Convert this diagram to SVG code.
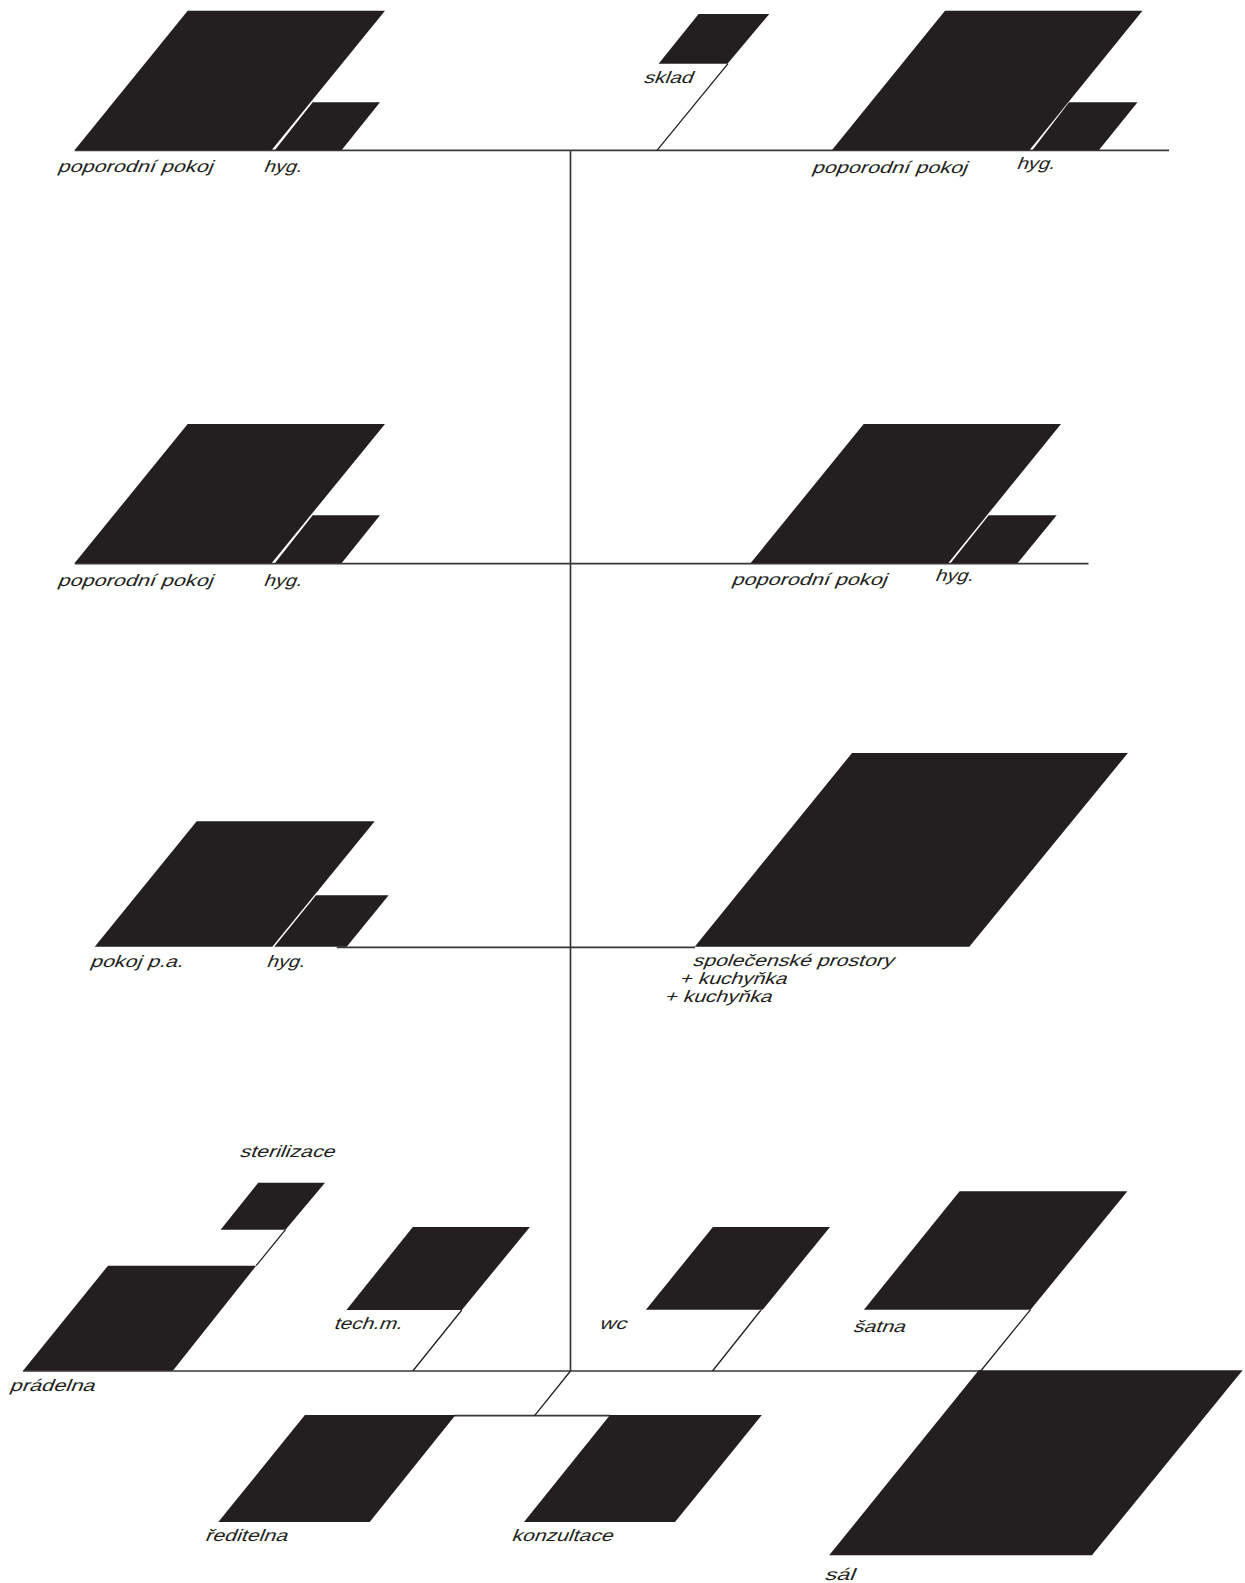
<svg xmlns="http://www.w3.org/2000/svg" width="1245" height="1583" viewBox="0 0 1245 1583">
<style>
.f{fill:#231f20}
.c{fill:none;stroke:#3a3739;stroke-width:1.7}
.d{fill:none;stroke:#231f20;stroke-width:1.3}
text{font-family:"Liberation Sans",Arial,sans-serif;font-size:16.5px;fill:#231f20}
</style>
<rect width="1245" height="1583" fill="#fff"/>
<g id="connectors">
<path class="c" d="M74.7 150.4H1169M570.5 150V1371M74.7 563.6H1088.5M336.7 947.4H695M23 1371H980.7M454 1415.6H610"/>
<path class="d" d="M728 63.7L657 150.4M285.5 1229.7L256.2 1265.7M461.8 1310L412.8 1371M761 1310L712.5 1371M1030.5 1309.7L980.7 1371M570.5 1371L534.6 1415.6"/>
</g>
<g id="n1"><polygon class="f" points="74.7,150 187.7,10.7 385,10.7 271.7,150"/><text transform="translate(57 172) skewX(-22)" textLength="155" lengthAdjust="spacingAndGlyphs">poporodní pokoj</text></g>
<g id="n1h"><polygon class="f" points="312.7,102.3 380,102.3 341.7,150 275,150"/><text transform="translate(263 172) skewX(-22)" textLength="38" lengthAdjust="spacingAndGlyphs">hyg.</text></g>
<g id="n2"><polygon class="f" points="698.6,14 769.3,14 727.5,63.7 658.6,63.7"/><text transform="translate(643 82.5) skewX(-22)" textLength="49" lengthAdjust="spacingAndGlyphs">sklad</text></g>
<g id="n3"><polygon class="f" points="832,150 945,10.7 1142.5,10.7 1029.6,150"/><text transform="translate(811.3 172.5) skewX(-22)" textLength="155" lengthAdjust="spacingAndGlyphs">poporodní pokoj</text></g>
<g id="n3h"><polygon class="f" points="1069,102.3 1137.5,102.3 1099,150 1032.5,150"/><text transform="translate(1015.9 168.5) skewX(-22)" textLength="38" lengthAdjust="spacingAndGlyphs">hyg.</text></g>
<g id="n4"><polygon class="f" points="74.7,563 187.7,424 385,424 271.7,563"/><text transform="translate(57 585.5) skewX(-22)" textLength="155" lengthAdjust="spacingAndGlyphs">poporodní pokoj</text></g>
<g id="n4h"><polygon class="f" points="312.7,515.3 380,515.3 341.7,563 275,563"/><text transform="translate(263 585.5) skewX(-22)" textLength="38" lengthAdjust="spacingAndGlyphs">hyg.</text></g>
<g id="n5"><polygon class="f" points="750.7,563 863.7,424 1061,424 948.3,563"/><text transform="translate(731 585) skewX(-22)" textLength="155" lengthAdjust="spacingAndGlyphs">poporodní pokoj</text></g>
<g id="n5h"><polygon class="f" points="988.7,515.3 1056.7,515.3 1017.7,563 950.7,563"/><text transform="translate(934.5 580.5) skewX(-22)" textLength="38" lengthAdjust="spacingAndGlyphs">hyg.</text></g>
<g id="n6"><polygon class="f" points="94.7,946.7 196.7,821.3 374.7,821.3 272.3,946.7"/><text transform="translate(89.5 966.5) skewX(-22)" textLength="93" lengthAdjust="spacingAndGlyphs">pokoj p.a.</text></g>
<g id="n6h"><polygon class="f" points="316,895.3 388.7,895.3 346.7,946.7 274.3,946.7"/><text transform="translate(266 966.5) skewX(-22)" textLength="38" lengthAdjust="spacingAndGlyphs">hyg.</text></g>
<g id="n7"><polygon class="f" points="694.7,946.7 852,753 1127.9,753 969.3,946.7"/><text transform="translate(692 966) skewX(-22)" textLength="201" lengthAdjust="spacingAndGlyphs">společenské prostory</text><text transform="translate(679 983.7) skewX(-22)" textLength="107" lengthAdjust="spacingAndGlyphs">+ kuchyňka</text><text transform="translate(664 1001.7) skewX(-22)" textLength="107" lengthAdjust="spacingAndGlyphs">+ kuchyňka</text></g>
<g id="n8"><polygon class="f" points="258.2,1182.7 325,1182.7 285.5,1229.7 220.6,1229.7"/><text transform="translate(239 1157) skewX(-22)" textLength="95" lengthAdjust="spacingAndGlyphs">sterilizace</text></g>
<g id="n9"><polygon class="f" points="108,1265.7 256.2,1265.7 172.8,1370.7 23,1370.7"/><text transform="translate(9 1391) skewX(-22)" textLength="85" lengthAdjust="spacingAndGlyphs">prádelna</text></g>
<g id="n10"><polygon class="f" points="412.8,1227 529.9,1227 461.8,1310 346.4,1310"/><text transform="translate(333.3 1329) skewX(-22)" textLength="68" lengthAdjust="spacingAndGlyphs">tech.m.</text></g>
<g id="n11"><polygon class="f" points="712.9,1227 830,1227 762.7,1309.7 645.9,1309.7"/><text transform="translate(598.8 1328.5) skewX(-22)" textLength="27" lengthAdjust="spacingAndGlyphs">wc</text></g>
<g id="n12"><polygon class="f" points="959.6,1191.3 1127.4,1191.3 1030.5,1309.7 863.9,1309.7"/><text transform="translate(852.4 1331.5) skewX(-22)" textLength="52" lengthAdjust="spacingAndGlyphs">šatna</text></g>
<g id="n13"><polygon class="f" points="978.7,1370.3 1242.6,1370.3 1091.9,1555.3 829.2,1555.3"/><text transform="translate(824 1579.5) skewX(-22)" textLength="30" lengthAdjust="spacingAndGlyphs">sál</text></g>
<g id="n14"><polygon class="f" points="304.9,1415 455.5,1415 369.7,1522 218.3,1522"/><text transform="translate(204.6 1541) skewX(-22)" textLength="82" lengthAdjust="spacingAndGlyphs">ředitelna</text></g>
<g id="n15"><polygon class="f" points="610,1415 761.9,1415 675,1522 524,1522"/><text transform="translate(511 1541) skewX(-22)" textLength="101" lengthAdjust="spacingAndGlyphs">konzultace</text></g>
</svg>
